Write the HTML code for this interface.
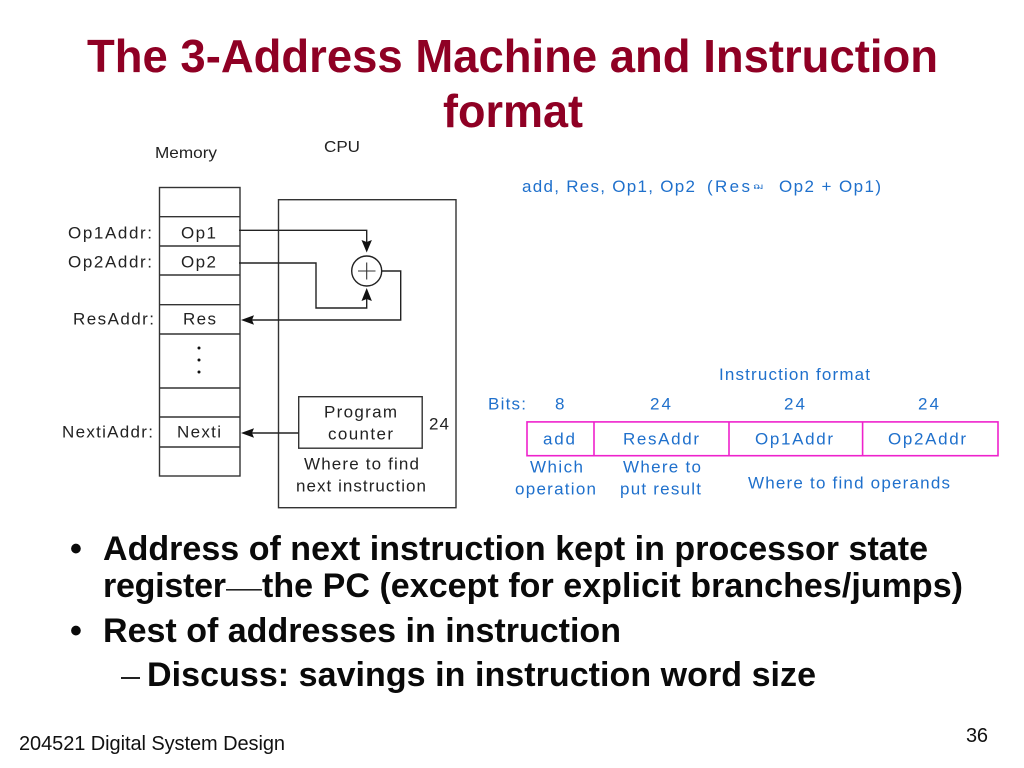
<!DOCTYPE html>
<html><head><meta charset="utf-8"><style>
html,body{margin:0;padding:0;background:#fff;width:1024px;height:768px;overflow:hidden}
svg{display:block}
text{font-family:"Liberation Sans",sans-serif}
.t{font-weight:bold;font-size:46px;fill:#8f0024}
.b{font-weight:bold;font-size:34px;fill:#0a0a0a}
.k{font-size:17px;fill:#222}
.c{font-size:17px;fill:#1f70cc}
.l{fill:none;stroke:#333;stroke-width:1.4}
.w{fill:none;stroke:#222;stroke-width:1.4}
.p{fill:none;stroke:#ee22cc;stroke-width:1.6}
</style></head><body>
<svg width="1024" height="768" viewBox="0 0 1024 768" xmlns="http://www.w3.org/2000/svg">
<text class="t" x="87" y="72" textLength="851" lengthAdjust="spacingAndGlyphs">The 3-Address Machine and Instruction</text>
<text class="t" x="443" y="127" textLength="140" lengthAdjust="spacingAndGlyphs">format</text>

<text class="k" x="155" y="158" style="font-size:16px" textLength="62" lengthAdjust="spacingAndGlyphs">Memory</text>
<text class="k" x="324" y="152" style="font-size:16px" textLength="36" lengthAdjust="spacingAndGlyphs">CPU</text>

<rect class="l" x="159.5" y="187.5" width="80.5" height="288.5"/>
<path class="l" d="M159.5 216.7H240M159.5 246H240M159.5 275H240M159.5 304.7H240M159.5 334H240M159.5 388H240M159.5 417H240M159.5 447H240"/>
<rect class="l" x="278.5" y="199.7" width="177.5" height="308"/>
<rect class="l" x="298.7" y="396.7" width="123.5" height="51.5"/>

<text class="k" x="68" y="238.5" textLength="84">Op1Addr:</text>
<text class="k" x="68" y="267.5" textLength="84">Op2Addr:</text>
<text class="k" x="73" y="324.5" textLength="81">ResAddr:</text>
<text class="k" x="62" y="437.5" textLength="91">NextiAddr:</text>
<text class="k" x="181" y="238.5" textLength="35">Op1</text>
<text class="k" x="181" y="267.5" textLength="35">Op2</text>
<text class="k" x="183" y="324.5" textLength="33">Res</text>
<text class="k" x="177" y="437.5" textLength="44">Nexti</text>
<circle cx="199" cy="348" r="1.5" fill="#111"/><circle cx="199" cy="360" r="1.5" fill="#111"/><circle cx="199" cy="372" r="1.5" fill="#111"/>

<text class="k" x="324" y="417.5" textLength="73">Program</text>
<text class="k" x="328" y="439.5" textLength="65">counter</text>
<text class="k" x="429" y="429.5" textLength="20">24</text>
<text class="k" x="304" y="469.5" textLength="115">Where to find</text>
<text class="k" x="296" y="491.5" textLength="130">next instruction</text>

<circle class="w" cx="366.7" cy="271" r="15" fill="#fff"/>
<path d="M358 271H375.5M366.7 262.5V279.5" fill="none" stroke="#333" stroke-width="1.1"/>
<path class="w" d="M239 230.3H366.7V242M239 263H316V308H366.7V298M382 271H400.7V320H250M298.7 433H250"/>
<path d="M366.7 252.5L361.5 240L366.7 242L371.9 240Z" fill="#111"/>
<path d="M366.7 288L361.5 301L366.7 299L371.9 301Z" fill="#111"/>
<path d="M241 320L254 315.2L252 320L254 324.8Z" fill="#111"/>
<path d="M241 433L254 428.2L252 433L254 437.8Z" fill="#111"/>

<text class="c" x="522" y="192" textLength="173">add, Res, Op1, Op2</text>
<text class="c" x="707" y="192" textLength="43">(Res</text>
<text class="c" x="753" y="189" style="font-size:8px" textLength="10" lengthAdjust="spacingAndGlyphs">ฌ</text>
<text class="c" x="779" y="192" textLength="102">Op2 + Op1)</text>

<text class="c" x="719" y="380" textLength="151">Instruction format</text>
<text class="c" x="488" y="409.5" textLength="38">Bits:</text>
<text class="c" x="555" y="409.5" textLength="9">8</text>
<text class="c" x="650" y="409.5" textLength="21">24</text>
<text class="c" x="784" y="409.5" textLength="21">24</text>
<text class="c" x="918" y="409.5" textLength="21">24</text>

<rect class="p" x="527" y="421.9" width="471" height="33.8"/>
<path class="p" d="M594 421.9V455.7M729 421.9V455.7M862.6 421.9V455.7"/>

<text class="c" x="543" y="444.5" textLength="32">add</text>
<text class="c" x="623" y="444.5" textLength="76">ResAddr</text>
<text class="c" x="755" y="444.5" textLength="78">Op1Addr</text>
<text class="c" x="888" y="444.5" textLength="78">Op2Addr</text>
<text class="c" x="530" y="472.5" textLength="53">Which</text>
<text class="c" x="515" y="494.5" textLength="81">operation</text>
<text class="c" x="623" y="472.5" textLength="78">Where to</text>
<text class="c" x="620" y="494.5" textLength="81">put result</text>
<text class="c" x="748" y="488.5" textLength="202">Where to find operands</text>

<text class="b" x="70" y="560">•</text>
<text class="b" x="103" y="560" textLength="825">Address of next instruction kept in processor state</text>
<text class="b" x="103" y="597" textLength="123">register</text>
<rect x="226" y="589" width="36" height="1.6" fill="#222"/>
<text class="b" x="262" y="597" textLength="701">the PC (except for explicit branches/jumps)</text>
<text class="b" x="70" y="642">•</text>
<text class="b" x="103" y="642" textLength="518">Rest of addresses in instruction</text>
<rect x="121" y="677" width="19" height="2" fill="#222"/>
<text class="b" x="147" y="686" textLength="669">Discuss: savings in instruction word size</text>

<text x="19" y="750" style="font-size:20px" fill="#111" textLength="266">204521 Digital System Design</text>
<text x="966" y="742" style="font-size:20px" fill="#111" textLength="22">36</text>
</svg>
</body></html>
